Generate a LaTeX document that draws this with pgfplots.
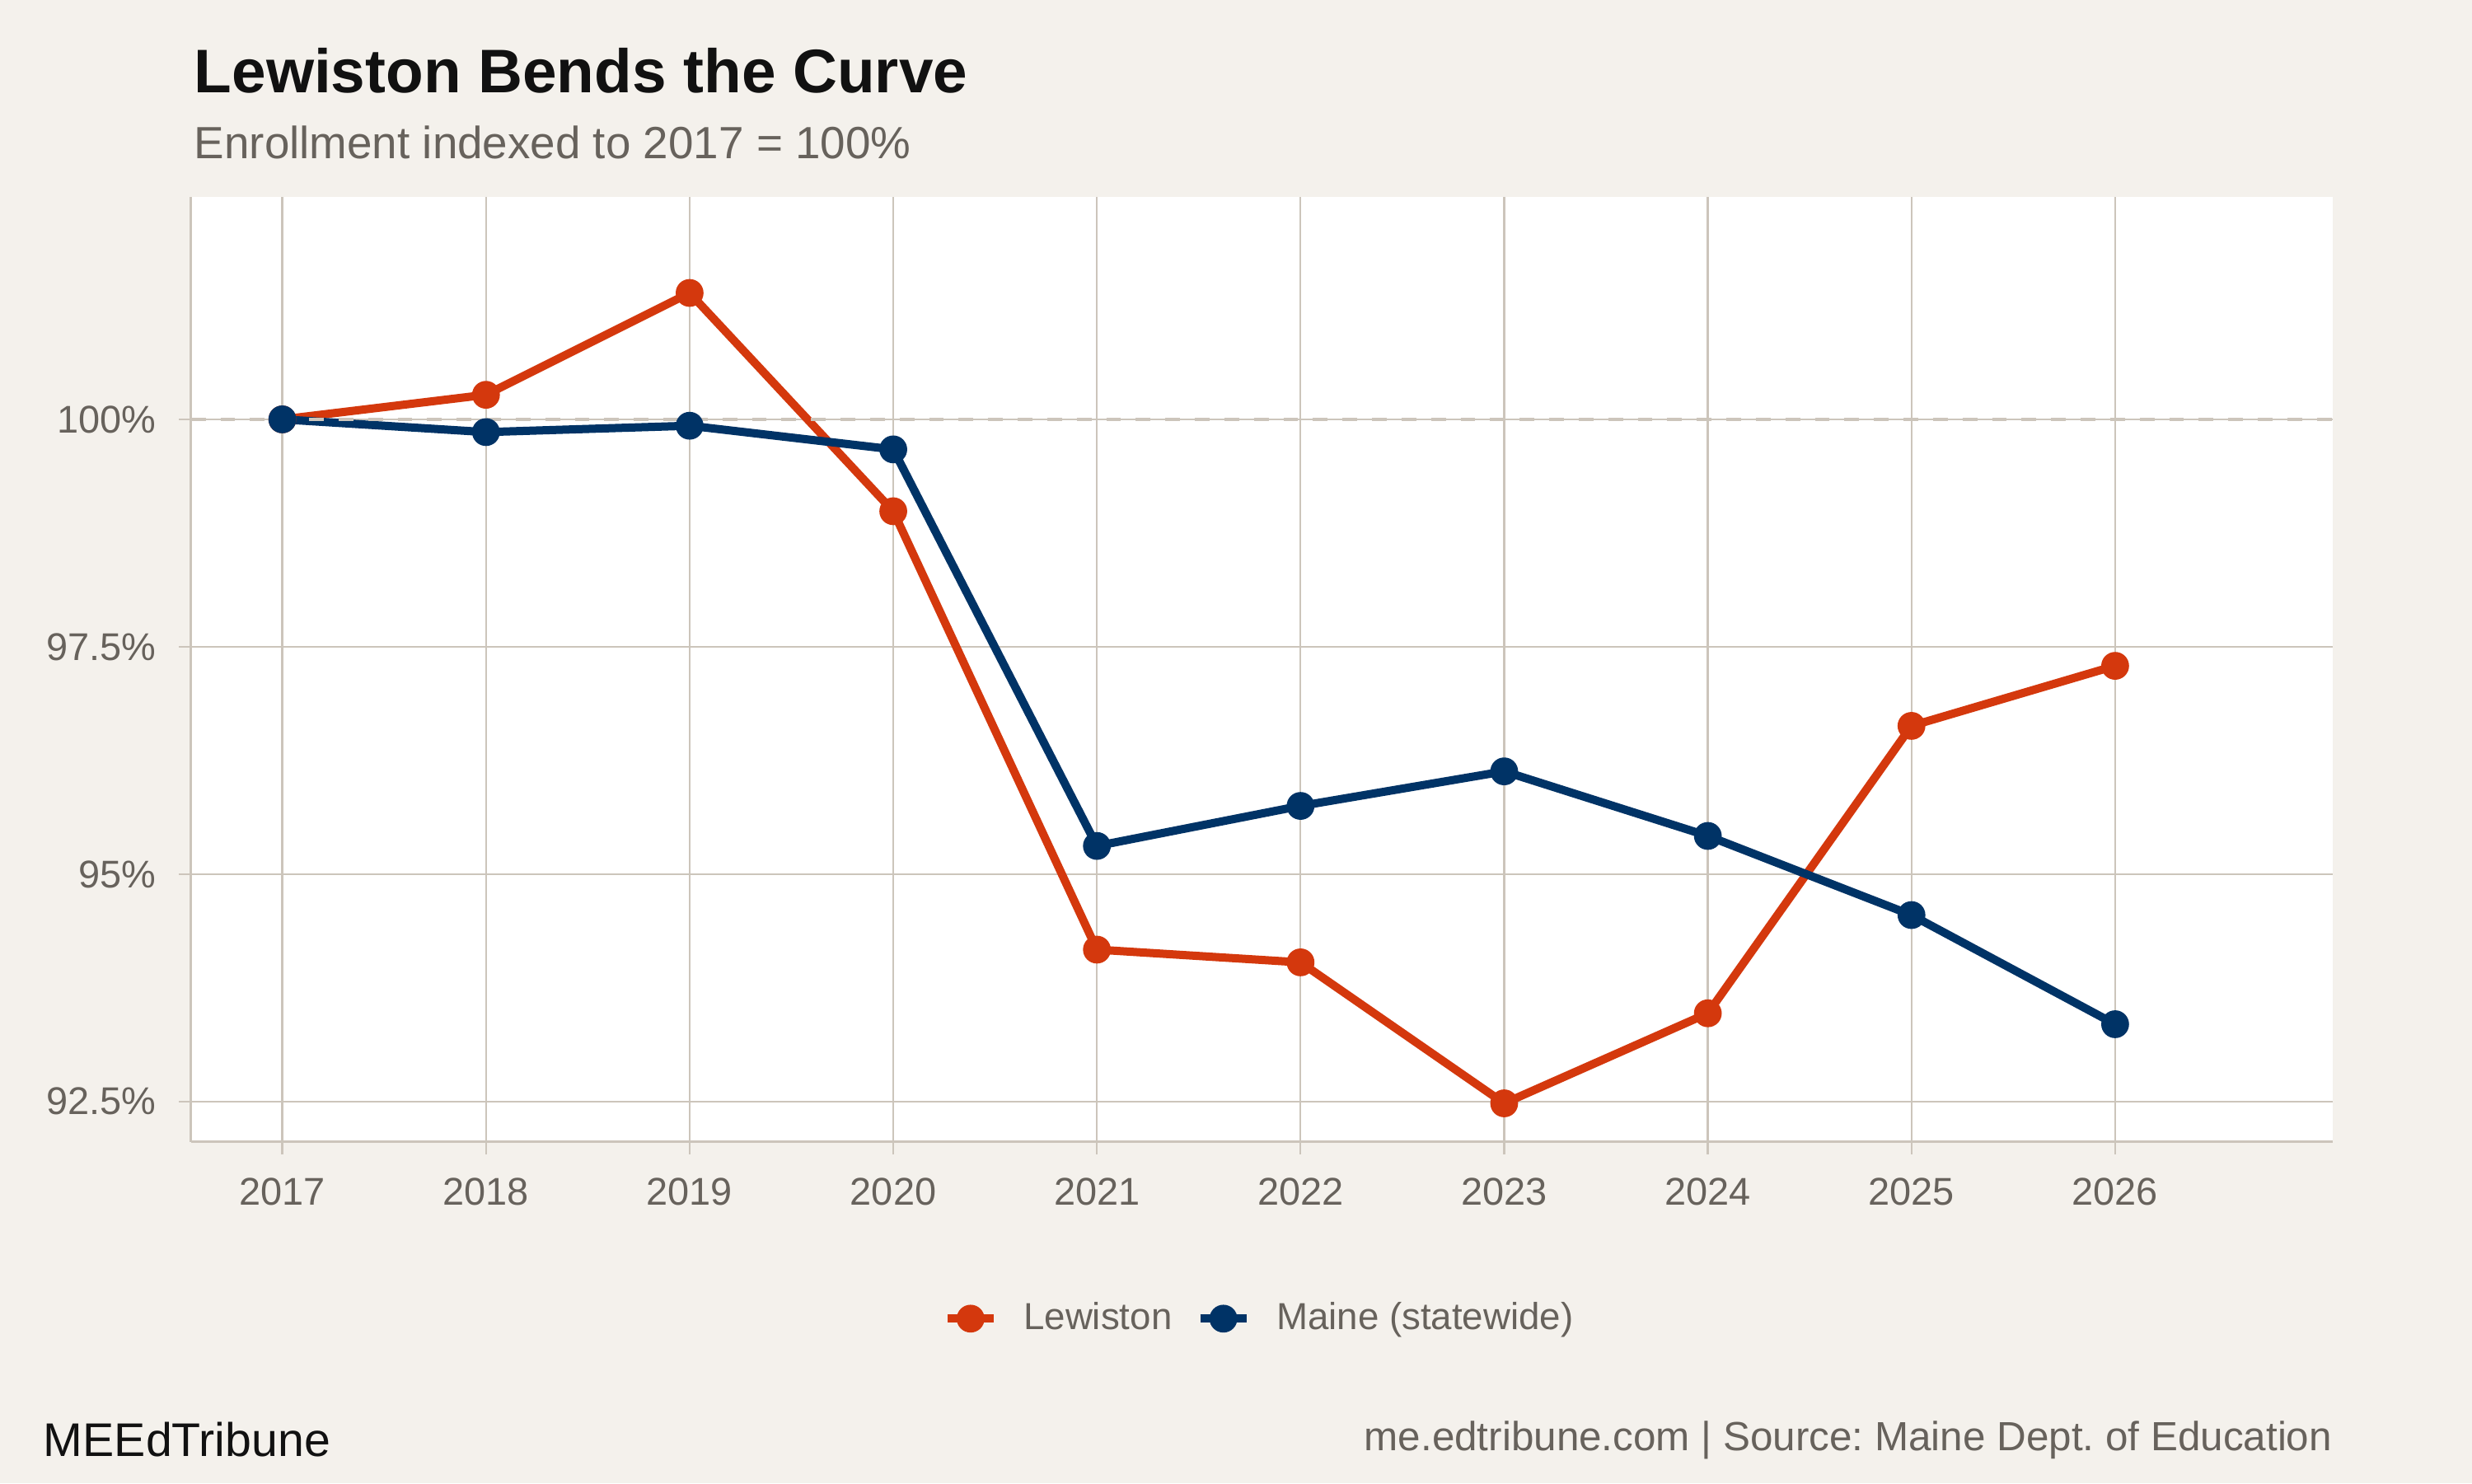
\documentclass[border=0pt]{standalone}
\usepackage{pgfplots}
\pgfplotsset{compat=1.18}
\usepackage{pgfplotstable}
\usepackage{fontspec}
\setmainfont{Liberation Sans}
\frenchspacing
\definecolor{bg}{HTML}{F4F1EC}
\definecolor{gridc}{HTML}{CCC5BB}
\definecolor{tickc}{HTML}{67625C}
\definecolor{titlec}{HTML}{111111}
\definecolor{lew}{HTML}{D4380D}
\definecolor{mai}{HTML}{003366}
\pgfplotstableread{
year value
2017 100.00
2018 100.27
2019 101.39
2020 98.99
2021 94.17
2022 94.03
2023 92.48
2024 93.47
2025 96.63
2026 97.29
}\lewiston
\pgfplotstableread{
year value
2017 100.00
2018 99.86
2019 99.93
2020 99.67
2021 95.31
2022 95.75
2023 96.13
2024 95.42
2025 94.55
2026 93.35
}\maine
\begin{document}
\begin{tikzpicture}
\fill[bg] (0,0) rectangle (720bp,432bp);
\begin{axis}[
  at={(55.6bp,99.4bp)}, anchor=south west,
  scale only axis, width=623.8bp, height=275.3bp,
  xmin=2016.551, xmax=2027.068, ymin=92.056, ymax=102.448,
  axis x line*=bottom, axis y line*=left,
  axis line style={gridc, line width=0.8bp},
  axis background/.style={fill=white},
  grid=major, grid style={gridc, line width=0.55bp},
  tick style={gridc, line width=0.55bp},
  tick align=outside, major tick length=3.6bp,
  xtick={2017,2018,2019,2020,2021,2022,2023,2024,2025,2026},
  xticklabels={2017,2018,2019,2020,2021,2022,2023,2024,2025,2026},
  ytick={92.5,95,97.5,100},
  yticklabels={92.5\%,95\%,97.5\%,100\%},
  ticklabel style={font=\fontsize{11.3}{13}\selectfont, text=tickc},
  xticklabel style={yshift=-3.5bp},
  yticklabel style={xshift=-3bp},
  legend style={at={(0.5,-0.187)}, anchor=center, draw=none, fill=none,
    font=\fontsize{11}{13}\selectfont, text=tickc,
    /tikz/every odd column/.append style={column sep=5.5bp},
    /tikz/every even column/.append style={column sep=5bp}},
  legend columns=2,
  legend image code/.code={\draw[mark repeat=2,mark phase=2,#1] plot coordinates {(0bp,0bp) (6.75bp,0bp) (13.5bp,0bp)};},
]
\addplot[lew, line width=2.4bp, mark=*, mark size=3.8bp, mark options={solid, line width=0.5bp, fill=lew}] table[x=year,y=value] {\lewiston};
\addlegendentry{Lewiston}
\addplot[mai, line width=2.4bp, mark=*, mark size=3.8bp, mark options={solid, line width=0.5bp, fill=mai}] table[x=year,y=value] {\maine};
\addlegendentry{Maine (statewide)}
\addplot[gridc, line width=0.8bp, dash pattern=on 4.3bp off 4.3bp, forget plot] coordinates {(2016.551,100) (2027.068,100)};
\end{axis}
\node[anchor=base west, inner sep=0, font=\fontsize{18}{20}\bfseries\selectfont, text=titlec] at (56.4bp,405bp) {Lewiston Bends the Curve};
\node[anchor=base west, inner sep=0, font=\fontsize{13.2}{15}\selectfont, text=tickc] at (56.4bp,385.9bp) {Enrollment indexed to 2017 = 100\%};
\node[anchor=base west, inner sep=0, font=\fontsize{13.8}{15}\selectfont, text=titlec] at (12.5bp,7.9bp) {MEEdTribune};
\node[anchor=base east, inner sep=0, font=\fontsize{11.9}{14}\selectfont, text=tickc] at (679.4bp,9.4bp) {me.edtribune.com | Source: Maine Dept. of Education};
\pgfresetboundingbox
\useasboundingbox (0,0) rectangle (720bp,432bp);
\end{tikzpicture}
\end{document}
